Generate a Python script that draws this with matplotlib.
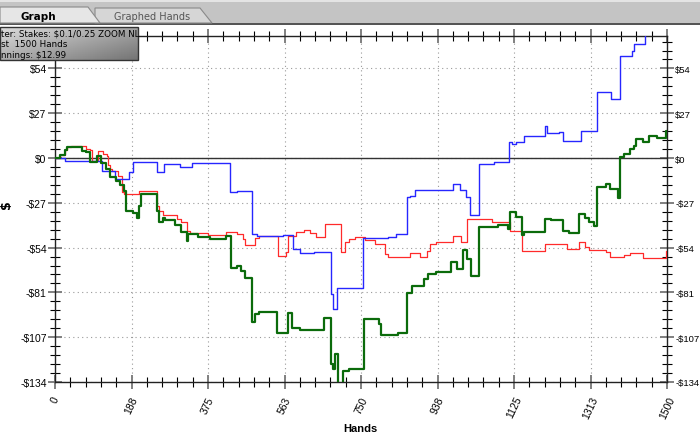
import numpy as np
import matplotlib
matplotlib.use("Agg")
import matplotlib.pyplot as plt
from matplotlib.patches import Rectangle, Polygon

# --- data (hands, winnings in $) ------------------------------------------
green_h = [0, 12, 25, 30, 65, 75, 87, 102, 112, 125, 135, 150, 160, 170, 175,
           190, 200, 205, 210, 250, 255, 265, 270, 295, 310, 323, 327, 350, 380,
           420, 431, 445, 455, 465, 482, 490, 500, 545, 572, 580, 600, 660, 676,
           682, 687, 693, 707, 720, 757, 795, 800, 840, 862, 875, 905, 915, 935,
           970, 985, 1000, 1010, 1020, 1040, 1085, 1110, 1115, 1130, 1145, 1150,
           1200, 1215, 1246, 1260, 1285, 1300, 1310, 1320, 1329, 1350, 1360,
           1380, 1386, 1395, 1410, 1420, 1425, 1440, 1455, 1475, 1497, 1500]
green_v = [0, 2, 4.8, 6.5, 4.4, 3.6, -2.6, 1.4, -3, -6.6, -11.6, -13.6, -16,
           -19.6, -31.6, -33, -35.6, -28.6, -21.6, -31.6, -38.5, -35.6, -37, -40,
           -44, -49.6, -45.6, -47, -48.5, -46.6, -65.5, -64.5, -67.5, -71.5, -98,
           -93.5, -92, -104.5, -93, -101.5, -103, -95.5, -123, -126, -117.5, -140,
           -127.5, -126, -96.5, -99.5, -106, -104.5, -80.5, -76.5, -72.5, -69.5,
           -68, -62.5, -66.5, -55, -60.5, -70.5, -41.5, -40, -42.5, -32.5, -35,
           -46, -44, -36.5, -37, -43.5, -45, -33.5, -36, -38.5, -40.5, -17.5,
           -15.6, -18.6, -24, 0.4, 2.4, 5.4, 7.4, 11.4, 9.6, 13.4, 12, 16.4, 13]

red_h = [0, 12, 25, 30, 40, 75, 85, 90, 106, 118, 127, 131, 135, 140, 155, 163,
         170, 205, 250, 255, 265, 300, 310, 323, 330, 375, 420, 445, 460, 465,
         490, 500, 546, 565, 570, 590, 610, 625, 640, 662, 701, 710, 720, 735,
         760, 785, 810, 815, 870, 895, 912, 920, 935, 975, 995, 1011, 1070,
         1115, 1145, 1200, 1255, 1285, 1300, 1310, 1350, 1360, 1395, 1410,
         1440, 1497, 1500]
red_v = [0, 2, 5, 6.4, 7.4, 5.5, 4.8, -2, 4, 2.4, 1.4, -4, -6.6, -8, -10.6,
         -20.6, -21.6, -20, -28.6, -31.6, -34, -36.5, -38.5, -43.6, -45, -46,
         -44.5, -45.5, -48.5, -52, -48, -46.6, -58.5, -56.5, -46.6, -44.5, -43,
         -45, -47.5, -39.6, -56.5, -50.5, -48.5, -47.5, -49, -51.6, -57.5, -59.5,
         -57, -59, -55.6, -51.6, -50, -46.6, -50.5, -36.2, -38.4, -43.6, -55.6,
         -51.6, -54.5, -50.5, -53, -55, -56.5, -59.4, -58, -57, -60, -55.5, -55.5]

blue_h = [0, 25, 114, 147, 182, 192, 250, 267, 307, 337, 429, 445, 482, 495,
          560, 584, 600, 635, 676, 682, 690, 756, 815, 835, 862, 870, 882, 976,
          993, 1008, 1018, 1040, 1075, 1113, 1120, 1130, 1150, 1200, 1205, 1235,
          1246, 1288, 1329, 1362, 1386, 1415, 1420, 1445, 1500]
blue_v = [0, -1.8, -7.6, -12.6, -8.6, -2.6, -8.6, -3.6, -5.2, -3.2, -20.6,
          -19.6, -45.6, -46.6, -46, -54.5, -57, -56, -81.5, -90.5, -77.5, -48,
          -47.2, -45.5, -23.6, -22.6, -19.3, -15.6, -19.3, -23.6, -34.3, -3.6,
          -2.2, 9.4, 8.4, 9.4, 13.2, 19.4, 15, 15.4, 10, 16.4, 39.4, 35.4, 61,
          64.3, 68.3, 76, 76]

x_ticks = [0, 187.5, 375, 562.5, 750, 937.5, 1125, 1312.5, 1500]
x_labels = ["0", "188", "375", "563", "750", "938", "1125", "1313", "1500"]
y_ticks = [53.6, 26.8, 0, -26.8, -53.6, -80.4, -107.2, -134]
y_labels = ["$54", "$27", "$0", "-$27", "-$54", "-$81", "-$107", "-$134"]

W, H = 700, 435
fig = plt.figure(figsize=(W / 100, H / 100), dpi=100)
fig.patch.set_facecolor("white")

# plot area in pixel terms: x 55..667, y 37..383
ax = fig.add_axes([55 / W, 1 - 383 / H, 612 / W, 346 / H])
ax.set_xlim(0, 1500)
ax.set_ylim(-134, 73)

ax.plot(red_h, red_v, drawstyle="steps-post", color="#ff2a2a", lw=0.9, zorder=3)
ax.plot(blue_h, blue_v, drawstyle="steps-post", color="#2626ff", lw=1.0, zorder=4)
ax.plot(green_h, green_v, drawstyle="steps-post", color="#0b6b0b", lw=1.6, zorder=5)
ax.axhline(0, color="#333333", lw=1.0, zorder=2)

ax.set_xticks(x_ticks)
ax.set_xticklabels(x_labels, rotation=65, fontsize=7.5, family="Liberation Sans")
ax.set_xticks(np.arange(0, 1501, 37.5), minor=True)
ax.set_yticks(y_ticks)
ylab = [s.replace("$", r"\$") for s in y_labels]
ax.set_yticklabels(ylab, fontsize=7.5, family="Liberation Sans")
ax.set_yticks(np.arange(-134, 74, 5.36), minor=True)

ax.grid(True, which="major", color="#9a9a9a", linestyle=(0, (1, 3)), lw=0.8)
ax.tick_params(which="major", direction="inout", length=10, width=1.4,
               color="#808080", top=True, right=True, labelright=True, pad=1.5)
ax.tick_params(which="minor", direction="inout", length=7, width=0.8,
               color="black", top=True, right=True)
ax.tick_params(axis="x", which="major", pad=4)
ax.tick_params(axis="y", which="major", pad=1)
# right-hand labels a touch smaller so they stay inside the window
for t in ax.yaxis.get_major_ticks():
    t.label2.set_fontsize(6.8)
for s in ax.spines.values():
    s.set_color("#222222")
    s.set_linewidth(1.0)

# --- window chrome drawn in pixel coordinates --------------------------------
ui = fig.add_axes([0, 0, 1, 1], zorder=10)
ui.set_axis_off()
ui.patch.set_alpha(0)

ui.add_patch(Rectangle((0, 0), W, 25, facecolor="#c4c4c4", edgecolor="none"))
ui.add_patch(Rectangle((0, 0), W, 3, facecolor="#e4e4e4", edgecolor="none"))
ui.add_patch(Rectangle((0, 24), W, 2, facecolor="#555555", edgecolor="none"))
ui.add_patch(Polygon([(95, 24), (95, 9), (200, 9), (212, 24)], closed=True,
                     facecolor="#d6d6d6", edgecolor="#8a8a8a", lw=0.8))
ui.add_patch(Polygon([(0, 24), (0, 8), (88, 8), (100, 24)], closed=True,
                     facecolor="#e6e6e6", edgecolor="#8a8a8a", lw=0.8))
ui.text(38, 17, "Graph", fontsize=7.5, fontweight="bold", ha="center",
        va="center", family="DejaVu Sans")
ui.text(152, 17, "Graphed Hands", fontsize=7, color="#555555", ha="center",
        va="center", family="DejaVu Sans")

# filter tooltip box with a light-to-mid gray gradient
gx = np.linspace(0, 1, 64)[None, :]
gy = np.linspace(0, 1, 16)[:, None]
shade = 0.86 - 0.22 * gx - 0.18 * gy
ui.imshow(np.dstack([shade, shade, shade]), extent=(0, 138, 61, 28),
          aspect="auto", zorder=1)
ui.add_patch(Rectangle((0, 28), 138, 33, facecolor="none", edgecolor="#333333",
                       lw=1.0, zorder=2))
ui.text(1, 34, r"ter: Stakes: \$0.1/0.25 ZOOM NL", fontsize=6.3, va="center",
        family="DejaVu Sans", zorder=3)
ui.text(1, 44.5, "st  1500 Hands", fontsize=6.3, va="center",
        family="DejaVu Sans", zorder=3)
ui.text(1, 55, r"nnings: \$12.99", fontsize=6.3, va="center",
        family="DejaVu Sans", zorder=3)
ui.set_xlim(0, W)
ui.set_ylim(H, 0)

ui.text(6, 205, r"\$", fontsize=9, fontweight="bold", rotation=90,
        ha="center", va="center")
ui.text(360, 429, "Hands", fontsize=8, fontweight="bold", ha="center",
        va="center", family="Liberation Sans")

fig.savefig("out.png", dpi=100)
